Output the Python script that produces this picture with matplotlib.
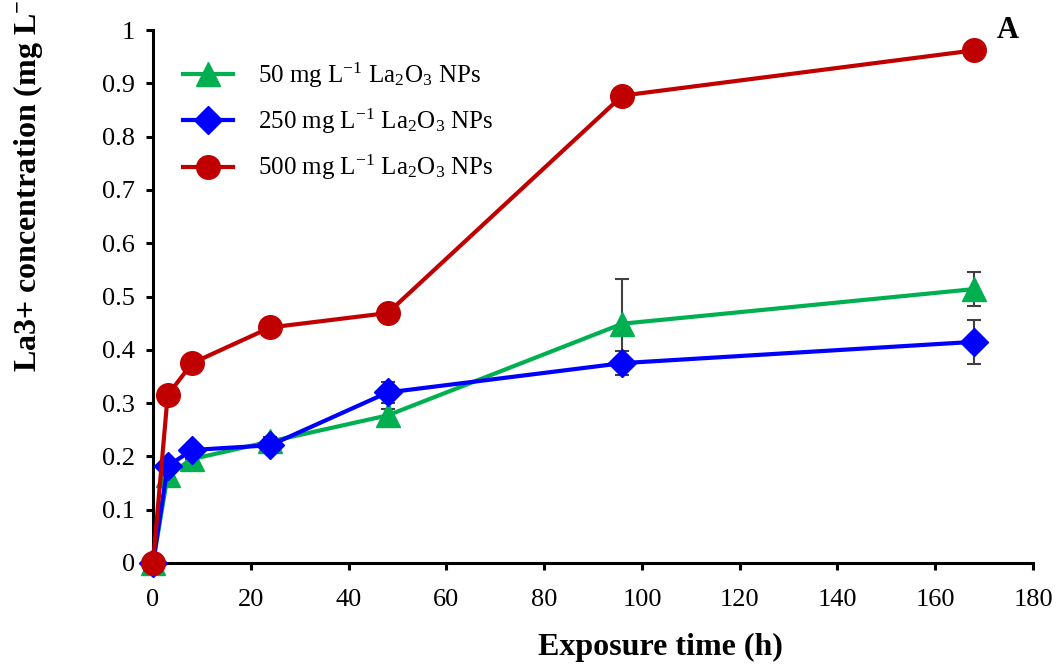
import matplotlib.pyplot as plt
import numpy as np

plt.rcParams['font.family'] = ['Liberation Serif', 'DejaVu Serif']
plt.rcParams['mathtext.fontset'] = 'custom'
plt.rcParams['mathtext.rm'] = 'Liberation Serif'
plt.rcParams['mathtext.it'] = 'Liberation Serif:italic'
plt.rcParams['mathtext.bf'] = 'Liberation Serif:bold'

# exposure time (h)
hours = [0, 3, 8, 24, 48, 96, 168]

# La3+ concentration (mg L-1)
c50 = [0, 0.165, 0.195, 0.228, 0.277, 0.449, 0.514]
c250 = [0, 0.182, 0.212, 0.221, 0.320, 0.375, 0.415]
c500 = [0, 0.315, 0.375, 0.442, 0.469, 0.877, 0.962]

err50 = [0, 0, 0, 0.008, 0.012, 0.083, 0.032]
err250 = [0, 0, 0, 0, 0.02, 0.023, 0.041]

labels = ['50 mg L$^{\\mathrm{-1}}$ La$_2$O$_3$ NPs',
          '250 mg L$^{\\mathrm{-1}}$ La$_2$O$_3$ NPs',
          '500 mg L$^{\\mathrm{-1}}$ La$_2$O$_3$ NPs']

fig = plt.figure(figsize=(10.59, 6.68), dpi=100)
ax = fig.add_axes([0.1445, 0.1572, 0.831, 0.7978])

ax.errorbar(hours, c50, yerr=err50, fmt='none', ecolor='#404040', elinewidth=1.5,
            capsize=5, capthick=1.5, zorder=2)
ax.errorbar(hours, c250, yerr=err250, fmt='none', ecolor='#404040', elinewidth=1.5,
            capsize=5, capthick=1.5, zorder=2)

ax.plot(hours, c50, color='#00B050', marker='^', markersize=17, lw=3, label=labels[0], zorder=3)
ax.plot(hours, c250, color='#0000FF', marker='D', markersize=14, lw=3, label=labels[1], zorder=4)
ax.plot(hours, c500, color='#C00000', marker='o', markersize=17, lw=3, label=labels[2], zorder=5)

ax.set_xlim(0, 180)
ax.set_ylim(0, 1)
ax.set_xticks(np.arange(0, 181, 20))
ax.set_yticks(np.arange(0, 1.01, 0.1))
ax.set_yticklabels(['0', '0.1', '0.2', '0.3', '0.4', '0.5', '0.6', '0.7', '0.8', '0.9', '1'])

for s in ['top', 'right']:
    ax.spines[s].set_visible(False)
for s in ['left', 'bottom']:
    ax.spines[s].set_linewidth(2.2)
ax.tick_params(direction='out', length=5, width=2.2, labelsize=19)
ax.tick_params(axis='x', pad=14)
ax.tick_params(axis='y', pad=8)
for line in ax.lines:
    line.set_clip_on(False)

# axis titles placed as in the source figure (y title runs off the top there too)
fig.text(660 / 1059, 1 - 647 / 668, 'Exposure time (h)', fontsize=23, fontweight='bold',
         ha='center', va='center')
fig.text(0.026, 0.443, 'La3+ concentration (mg L$^{\\mathbf{-1}}$)', rotation=90,
         ha='center', va='bottom', fontsize=23, fontweight='bold')

ax.text(1008 / 1059, 1 - 31 / 668, 'A', transform=fig.transFigure, fontsize=22,
        fontweight='bold', ha='center', va='center')

ax.legend(loc='upper left', bbox_to_anchor=(0.008, 0.985), frameon=False, fontsize=18,
          handlelength=2.0, labelspacing=0.68, handletextpad=1.0)

fig.savefig('out.png', dpi=100)
